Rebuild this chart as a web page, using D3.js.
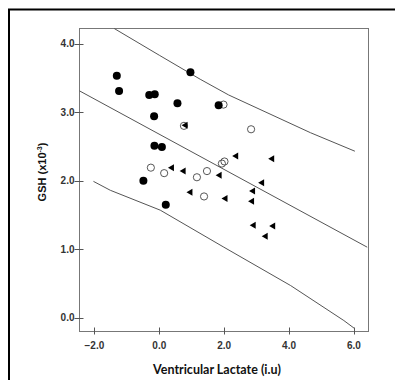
<!DOCTYPE html>
<html>
<head>
<meta charset="utf-8">
<script src="https://cdn.jsdelivr.net/npm/d3@7"></script>
<style>
  body { margin: 0; background: #fff; }
  svg { display: block; }
</style>
</head>
<body>
<svg id="chart" width="395" height="380"></svg>
<script>
"use strict";

// tick labels
var xTicks = [-2, 0, 2, 4, 6];
var yTicks = [0, 1, 2, 3, 4];

// filled circles : [lactate, GSH]
var filledX = [-1.31, -1.24, -0.31, -0.14, 0.56, 0.96, -0.16, -0.15, 0.08, -0.49, 0.20, 1.83];
var filledY = [3.53, 3.31, 3.25, 3.26, 3.13, 3.58, 2.94, 2.51, 2.49, 2.00, 1.65, 3.10];

// open circles
var openX = [0.76, 1.98, 2.83, -0.26, 0.15, 1.16, 1.47, 1.38, 1.93, 2.01];
var openY = [2.80, 3.11, 2.75, 2.19, 2.11, 2.05, 2.14, 1.77, 2.25, 2.28];

// triangles
var triX = [0.78, 0.36, 0.72, 1.83, 0.93, 2.01, 2.34, 3.45, 3.14, 2.86, 2.83, 2.88, 3.48, 3.25];
var triY = [2.81, 2.19, 2.14, 2.08, 1.83, 1.74, 2.36, 2.32, 1.97, 1.85, 1.70, 1.35, 1.34, 1.19];

// fit line and interval curves
var fitX = [-2.46, 6.41];
var fitY = [3.31, 1.03];
var upperX = [-1.39, 0, 1.26, 2.14, 4.66, 6.03];
var upperY = [4.22, 3.83, 3.48, 3.25, 2.70, 2.43];
var lowerX = [-2.03, -1.51, 0.03, 1.99, 4.05, 5.69, 6.03];
var lowerY = [1.99, 1.86, 1.57, 1.03, 0.47, -0.04, -0.16];

var svg = d3.select("#chart");

// outer frame (runs off the right and bottom)
svg.append("path")
    .attr("d", "M9,390 L9,9.5 L400,9.5")
    .attr("fill", "none")
    .attr("stroke", "#000")
    .attr("stroke-width", 2);

var pLeft = 79.5, pTop = 28.5, pRight = 368.5, pBottom = 331.5;

var x = d3.scaleLinear().domain([-2.46, 6.45]).range([pLeft, pRight]);
var y = d3.scaleLinear().domain([-0.2, 4.22]).range([pBottom, pTop]);

// plot frame
svg.append("rect")
    .attr("x", pLeft).attr("y", pTop)
    .attr("width", pRight - pLeft).attr("height", pBottom - pTop)
    .attr("fill", "none")
    .attr("stroke", "#777")
    .attr("stroke-width", 1);

// y axis ticks and labels
var yAxis = svg.append("g");
yAxis.selectAll("line").data(yTicks).enter().append("line")
    .attr("x1", pLeft - 5).attr("x2", pLeft + 4)
    .attr("y1", function(d) { return Math.round(y(d)) + 0.5; })
    .attr("y2", function(d) { return Math.round(y(d)) + 0.5; })
    .attr("stroke", "#555");
yAxis.selectAll("text").data(yTicks).enter().append("text")
    .attr("x", pLeft - 5)
    .attr("y", function(d) { return y(d); })
    .attr("dy", "0.36em")
    .attr("text-anchor", "end")
    .attr("font-family", "Liberation Sans, Arial, sans-serif")
    .attr("font-weight", "bold")
    .attr("font-size", "10px")
    .attr("fill", "#333")
    .text(d3.format(".1f"));

// x axis ticks and labels
var xAxis = svg.append("g");
xAxis.selectAll("line").data(xTicks).enter().append("line")
    .attr("x1", function(d) { return Math.round(x(d)) + 0.5; })
    .attr("x2", function(d) { return Math.round(x(d)) + 0.5; })
    .attr("y1", pBottom - 4).attr("y2", pBottom + 3)
    .attr("stroke", "#555");
xAxis.selectAll("text").data(xTicks).enter().append("text")
    .attr("x", function(d) { return x(d); })
    .attr("y", pBottom + 14)
    .attr("dy", "0.36em")
    .attr("text-anchor", "middle")
    .attr("font-family", "Liberation Sans, Arial, sans-serif")
    .attr("font-weight", "bold")
    .attr("font-size", "10px")
    .attr("fill", "#333")
    .text(d3.format(".1f"));

// axis titles
svg.append("text")
    .attr("x", 217)
    .attr("y", 374)
    .attr("text-anchor", "middle")
    .attr("font-family", "Lato, sans-serif")
    .attr("font-weight", "bold")
    .attr("font-size", "12.5px")
    .attr("fill", "#111")
    .text("Ventricular Lactate (i.u)");

var yTitle = svg.append("text")
    .attr("transform", "translate(46,172) rotate(-90)")
    .attr("text-anchor", "middle")
    .attr("font-family", "Liberation Sans, Arial, sans-serif")
    .attr("font-weight", "bold")
    .attr("font-size", "11px")
    .attr("fill", "#111");
yTitle.append("tspan").text("GSH (x10");
yTitle.append("tspan").attr("font-size", "7px").attr("dy", "-4").text("-3");
yTitle.append("tspan").attr("dy", "4").text(")");

// lines
var line = d3.line()
    .x(function(d) { return x(d[0]); })
    .y(function(d) { return y(d[1]); });

function zip(a, b) { return a.map(function(v, i) { return [v, b[i]]; }); }

[zip(fitX, fitY), zip(upperX, upperY), zip(lowerX, lowerY)].forEach(function(pts) {
  svg.append("path")
      .datum(pts)
      .attr("d", line)
      .attr("fill", "none")
      .attr("stroke", "#555")
      .attr("stroke-width", 1);
});

// open circles
svg.append("g").selectAll("circle")
    .data(zip(openX, openY))
    .enter().append("circle")
      .attr("cx", function(d) { return x(d[0]); })
      .attr("cy", function(d) { return y(d[1]); })
      .attr("r", 3.6)
      .attr("fill", "none")
      .attr("stroke", "#444")
      .attr("stroke-width", 0.9);

// filled circles
svg.append("g").selectAll("circle")
    .data(zip(filledX, filledY))
    .enter().append("circle")
      .attr("cx", function(d) { return x(d[0]); })
      .attr("cy", function(d) { return y(d[1]); })
      .attr("r", 4)
      .attr("fill", "#000");

// left-pointing triangles
svg.append("g").selectAll("path")
    .data(zip(triX, triY))
    .enter().append("path")
      .attr("transform", function(d) { return "translate(" + x(d[0]) + "," + y(d[1]) + ")"; })
      .attr("d", "M-3,0 L3,-3.5 L3,3.5 Z")
      .attr("fill", "#000");
</script>
</body>
</html>
